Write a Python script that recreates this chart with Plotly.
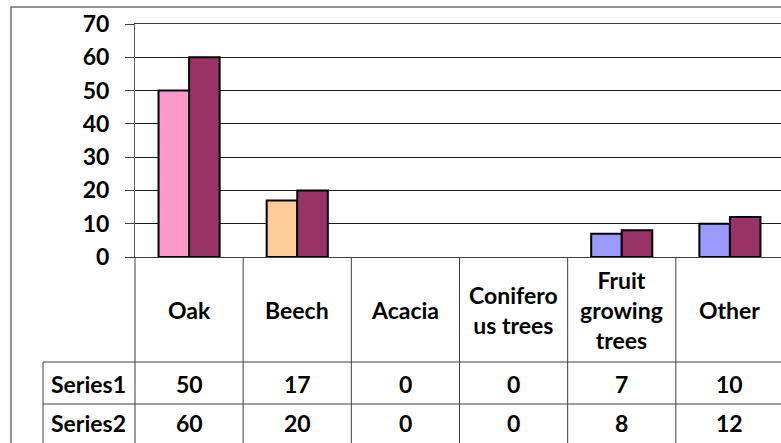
import plotly.graph_objects as go

categories = ["Oak", "Beech", "Acacia", "Coniferous trees", "Fruit growing trees", "Other"]
category_labels = ["Oak", "Beech", "Acacia", "Conifero<br>us trees", "Fruit<br>growing<br>trees", "Other"]
series_names = ["Series1", "Series2"]
series1 = [50, 17, 0, 0, 7, 10]
series2 = [60, 20, 0, 0, 8, 12]
y_ticks = [0, 10, 20, 30, 40, 50, 60, 70]

W, H = 781, 443
FONT = "Lato"
FS = 23


def py(p):
    return (H - p) / H


def px(p):
    return p / W


s1_colors = ["#FF99CC", "#FFCC99", "#CCFFCC", "#CCFFFF", "#9999FF", "#9999FF"]
s2_color = "#993366"
line_w = [0 if v == 0 else 2 for v in series1]
line_w2 = [0 if v == 0 else 2 for v in series2]

fig = go.Figure()
fig.add_trace(go.Bar(x=categories, y=series1, name=series_names[0],
                     marker=dict(color=s1_colors, line=dict(color="#000000", width=line_w))))
fig.add_trace(go.Bar(x=categories, y=series2, name=series_names[1],
                     marker=dict(color=s2_color, line=dict(color="#000000", width=line_w2))))

plot_left, plot_right_virtual = 135, 784
cat_w = (plot_right_virtual - plot_left) / len(categories)
x_end = -0.5 + (W - plot_left) / cat_w

fig.update_layout(
    width=W, height=H,
    margin=dict(l=0, r=0, t=0, b=0, autoexpand=False),
    paper_bgcolor="white", plot_bgcolor="white",
    showlegend=False,
    barmode="group", bargap=0.435, bargroupgap=0,
    font=dict(family=FONT, size=FS, color="#000000", weight="bold"),
    xaxis=dict(domain=[px(plot_left), 1], range=[-0.5, x_end], showticklabels=False,
               showline=True, linecolor="#404040", linewidth=1, mirror=True,
               showgrid=False, ticks="", automargin=False),
    yaxis=dict(domain=[py(257), py(24)], range=[0, 70], tickvals=y_ticks,
               ticks="outside", ticklen=9, tickcolor="#404040", tickwidth=1,
               showline=True, linecolor="#606060", linewidth=1,
               showgrid=True, gridcolor="#1a1a1a", gridwidth=1, zeroline=False,
               ticklabelstandoff=11, automargin=False,
               tickfont=dict(family=FONT, size=FS, color="#000000", weight="bold")),
)

shapes = []
# outer chart frame
shapes.append(dict(type="rect", xref="paper", yref="paper", x0=px(11), x1=1.2,
                   y0=-0.2, y1=py(7), line=dict(color="#707070", width=1.5)))
# table vertical lines between categories
for i in range(1, len(categories)):
    shapes.append(dict(type="line", xref="x", yref="paper", x0=i - 0.5, x1=i - 0.5,
                       y0=-0.1, y1=py(257), line=dict(color="#404040", width=1)))
# table left axis extension
shapes.append(dict(type="line", xref="paper", yref="paper", x0=px(plot_left), x1=px(plot_left),
                   y0=-0.1, y1=py(257), line=dict(color="#404040", width=1)))
# series label column
shapes.append(dict(type="line", xref="paper", yref="paper", x0=px(43), x1=px(43),
                   y0=-0.1, y1=py(362), line=dict(color="#404040", width=1)))
for yy in (362, 404):
    shapes.append(dict(type="line", xref="paper", yref="paper", x0=px(43), x1=1.1,
                       y0=py(yy), y1=py(yy), line=dict(color="#404040", width=1)))

annotations = []
for i, lab in enumerate(category_labels):
    annotations.append(dict(x=i, y=py(310), xref="x", yref="paper", text=lab,
                            showarrow=False, xanchor="center", yanchor="middle",
                            font=dict(family=FONT, size=FS, weight="bold")))
rows = [(series_names[0], series1, 384), (series_names[1], series2, 423)]
for name, vals, yy in rows:
    annotations.append(dict(x=px(49), y=py(yy), xref="paper", yref="paper", text=name,
                            showarrow=False, xanchor="left", yanchor="middle",
                            font=dict(family=FONT, size=FS, weight="bold")))
    for i, v in enumerate(vals):
        annotations.append(dict(x=i, y=py(yy), xref="x", yref="paper", text=str(v),
                                showarrow=False, xanchor="center", yanchor="middle",
                                font=dict(family=FONT, size=FS, weight="bold")))

fig.update_layout(shapes=shapes, annotations=annotations)
fig.write_html("out.html", config={"displayModeBar": False},
               post_script="document.body.style.margin='0';document.body.style.overflow='hidden';")
